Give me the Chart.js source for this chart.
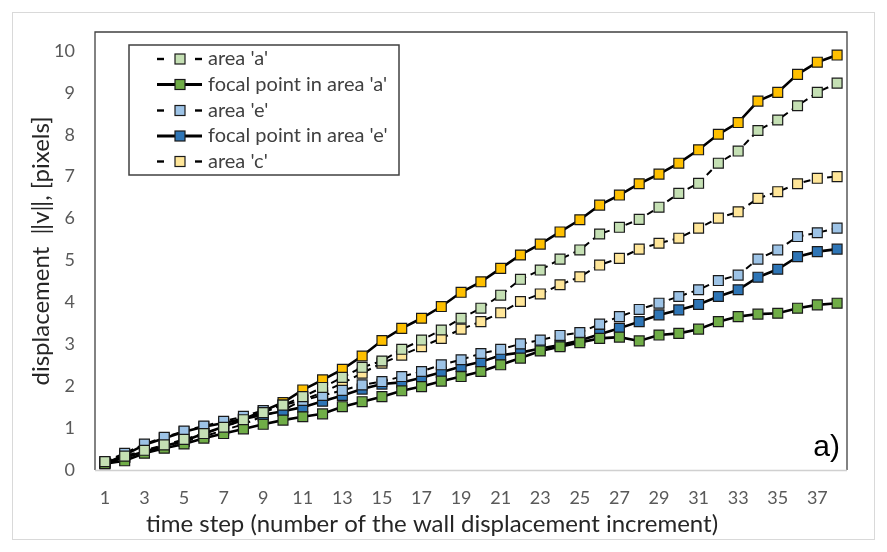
<!DOCTYPE html>
<html>
<head>
<meta charset="utf-8">
<script src="https://cdn.jsdelivr.net/npm/chart.js@4/dist/chart.umd.min.js"></script>
<style>
  html, body { margin: 0; padding: 0; background: #ffffff; }
  #wrap { width: 887px; height: 552px; position: relative; }
</style>
</head>
<body>
<div id="wrap"><canvas id="c" width="887" height="552"></canvas></div>
<script>
const timeSteps = Array.from({length: 38}, (_, i) => String(i + 1));
const yTickValues = [0, 1, 2, 3, 4, 5, 6, 7, 8, 9, 10];

const areaA  = [0.20,0.33,0.47,0.60,0.73,0.87,1.02,1.20,1.37,1.55,1.75,1.97,2.21,2.45,2.60,2.88,3.10,3.34,3.62,3.86,4.17,4.55,4.77,5.03,5.25,5.63,5.79,5.98,6.27,6.60,6.84,7.32,7.61,8.10,8.35,8.69,9.01,9.23];
const focalA = [0.15,0.22,0.40,0.52,0.62,0.76,0.87,0.98,1.09,1.19,1.27,1.34,1.51,1.63,1.75,1.89,1.99,2.12,2.23,2.35,2.51,2.67,2.84,2.94,3.04,3.14,3.17,3.08,3.22,3.26,3.36,3.54,3.66,3.72,3.74,3.86,3.94,3.98];
const areaE  = [0.20,0.40,0.62,0.78,0.93,1.05,1.16,1.28,1.42,1.55,1.66,1.78,1.90,2.03,2.11,2.23,2.35,2.51,2.63,2.78,2.88,3.01,3.10,3.21,3.28,3.48,3.66,3.83,3.98,4.14,4.30,4.52,4.65,5.03,5.25,5.57,5.66,5.77];
const focalE = [0.15,0.36,0.60,0.76,0.91,1.03,1.12,1.22,1.32,1.40,1.50,1.64,1.78,1.93,2.05,2.09,2.20,2.33,2.47,2.58,2.74,2.80,2.90,2.98,3.09,3.24,3.38,3.54,3.70,3.82,3.95,4.14,4.30,4.60,4.79,5.09,5.21,5.27];
const areaC  = [0.18,0.30,0.42,0.55,0.68,0.80,0.95,1.09,1.29,1.43,1.67,1.85,2.07,2.31,2.55,2.74,2.94,3.14,3.36,3.54,3.75,4.02,4.20,4.42,4.61,4.89,5.05,5.27,5.41,5.53,5.77,6.01,6.16,6.48,6.64,6.83,6.96,7.00];
const focalC = [0.16,0.30,0.44,0.57,0.69,0.87,1.03,1.21,1.41,1.61,1.91,2.15,2.40,2.72,3.09,3.38,3.62,3.90,4.24,4.49,4.81,5.13,5.39,5.68,5.97,6.32,6.56,6.83,7.06,7.32,7.64,8.01,8.29,8.80,9.01,9.44,9.73,9.90];

const seriesNames = ["area 'a'", "focal point in area 'a'", "area 'e'", "focal point in area 'e'", "area 'c'", "focal point in area 'c'"];
const legendCount = 5;

const FONT = "Lato, 'Open Sans', sans-serif";

function ds(label, data, fill, dashed) {
  return {
    label, data,
    borderColor: '#000000',
    borderWidth: dashed ? 2 : 2.6,
    borderDash: dashed ? [7, 5] : [],
    pointStyle: 'rect',
    pointRadius: 7,
    pointHoverRadius: 7,
    pointBackgroundColor: fill,
    pointBorderColor: '#1a1a1a',
    pointBorderWidth: 1.2,
    tension: 0,
    fill: false,
    _dashed: dashed
  };
}

const frame = {
  id: 'frame',
  beforeDraw(chart) {
    const ctx = chart.ctx;
    ctx.save();
    ctx.fillStyle = '#ffffff';
    ctx.fillRect(0, 0, chart.width, chart.height);
    ctx.strokeStyle = '#d9d9d9';
    ctx.lineWidth = 1;
    ctx.strokeRect(12.5, 12.5, 862, 527);
    ctx.restore();
  },
  afterDraw(chart) {
    const ctx = chart.ctx;
    const a = chart.chartArea;
    ctx.save();
    // plot area border
    ctx.strokeStyle = '#404040';
    ctx.lineWidth = 1.3;
    ctx.beginPath();
    ctx.moveTo(a.left, a.bottom);
    ctx.lineTo(a.left, a.top);
    ctx.lineTo(a.right, a.top);
    ctx.lineTo(a.right, a.bottom);
    ctx.stroke();
    ctx.strokeStyle = '#d0d0d0';
    ctx.beginPath();
    ctx.moveTo(a.left, a.bottom + 0.5);
    ctx.lineTo(a.right, a.bottom + 0.5);
    ctx.stroke();

    // legend box
    const lx = 129, ly = 45, lw = 270, lh = 130;
    ctx.fillStyle = '#ffffff';
    ctx.fillRect(lx, ly, lw, lh);
    ctx.strokeStyle = '#404040';
    ctx.lineWidth = 1.5;
    ctx.strokeRect(lx, ly, lw, lh);
    const rowY = [59, 84.5, 110.5, 136, 161.5];
    for (let i = 0; i < legendCount; i++) {
      const d = chart.data.datasets[i];
      const y = rowY[i];
      ctx.strokeStyle = '#000';
      ctx.lineWidth = d._dashed ? 2.4 : 3;
      if (d._dashed) {
        ctx.beginPath(); ctx.moveTo(157, y); ctx.lineTo(164, y); ctx.stroke();
        ctx.beginPath(); ctx.moveTo(195, y); ctx.lineTo(202, y); ctx.stroke();
      } else {
        ctx.beginPath(); ctx.moveTo(157, y); ctx.lineTo(202, y); ctx.stroke();
      }
      ctx.fillStyle = d.pointBackgroundColor;
      ctx.fillRect(175, y - 5, 10, 10);
      ctx.strokeStyle = '#1a1a1a';
      ctx.lineWidth = 1.2;
      ctx.strokeRect(175, y - 5, 10, 10);
      ctx.fillStyle = '#404040';
      ctx.font = '20px ' + FONT;
      ctx.textAlign = 'left';
      ctx.textBaseline = 'middle';
      ctx.fillText(d.label, 208, y);
    }

    // panel label
    ctx.fillStyle = '#000';
    ctx.font = '30px "Liberation Sans", Arial, sans-serif';
    ctx.textAlign = 'right';
    ctx.textBaseline = 'alphabetic';
    ctx.fillText('a)', 840, 456);

    // axis titles
    ctx.fillStyle = '#262626';
    ctx.font = '24px ' + FONT;
    ctx.textAlign = 'center';
    ctx.textBaseline = 'middle';
    ctx.fillText('time step (number of the wall displacement increment)', 432, 524);
    ctx.translate(41, 251);
    ctx.rotate(-Math.PI / 2);
    ctx.fillText('displacement  \u2016v\u2016, [pixels]', 0, 0);
    ctx.restore();
  }
};

new Chart(document.getElementById('c'), {
  type: 'line',
  data: {
    labels: timeSteps,
    datasets: [
      ds(seriesNames[0], areaA, '#c5e0b4', true),
      ds(seriesNames[1], focalA, '#70ad47', false),
      ds(seriesNames[2], areaE, '#9dc3e6', true),
      ds(seriesNames[3], focalE, '#2e75b6', false),
      ds(seriesNames[4], areaC, '#ffe699', true),
      ds(seriesNames[5], focalC, '#ffc000', false)
    ]
  },
  options: {
    responsive: false,
    animation: false,
    layout: { padding: { left: 0, top: 32, right: 40, bottom: 0 } },
    plugins: { legend: { display: false }, tooltip: { enabled: false } },
    scales: {
      x: {
        offset: true,
        grid: { display: false, drawTicks: false },
        border: { display: false },
        ticks: {
          autoSkip: false, maxRotation: 0, padding: 17,
          color: '#595959', font: { size: 18, family: FONT },
          callback: function(v, i) { return i % 2 === 0 ? this.getLabelForValue(v) : ''; }
        },
        afterFit(s) { s.height = 82; }
      },
      y: {
        min: 0, max: 10.45,
        grid: { display: false, drawTicks: false },
        border: { display: false },
        afterBuildTicks(s) { s.ticks = yTickValues.map(v => ({ value: v })); },
        ticks: { padding: 20, color: '#595959', font: { size: 18, family: FONT } },
        afterFit(s) { s.width = 95; }
      }
    }
  },
  plugins: [frame]
});
</script>
</body>
</html>
